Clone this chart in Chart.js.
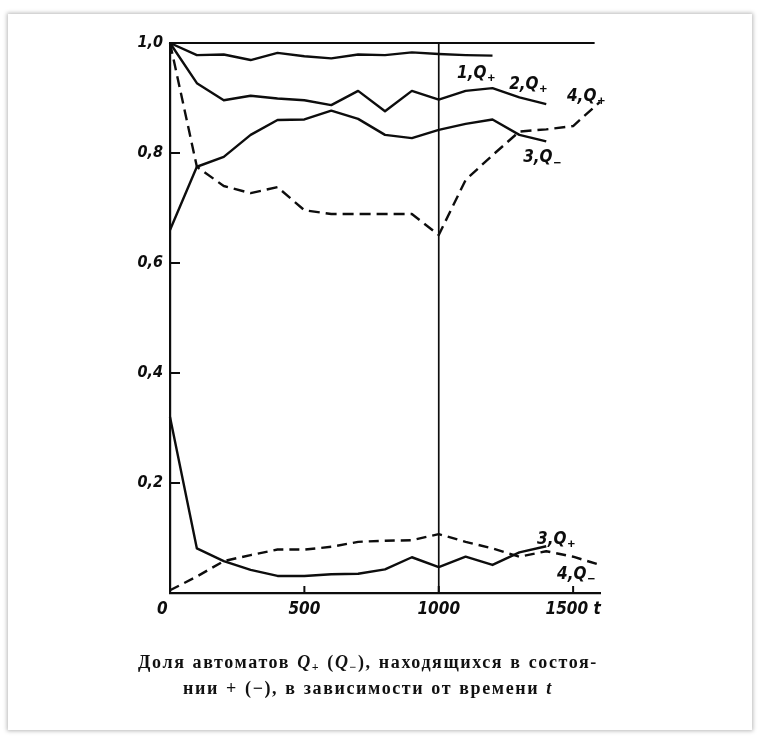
<!DOCTYPE html>
<html>
<head>
<meta charset="utf-8">
<script src="https://cdn.jsdelivr.net/npm/chart.js@4.4.1/dist/chart.umd.min.js"></script>
<style>
  html, body { margin: 0; padding: 0; background: #ffffff; }
  body { width: 760px; height: 744px; position: relative; overflow: hidden; }
  #paper { position: absolute; left: 8px; top: 14px; width: 744px; height: 716px; background: #fff;
           box-shadow: 0 0 4px 1px rgba(0,0,0,0.28); }
  #wrap { position: absolute; left: 0; top: 0; width: 760px; height: 744px; }
  #caption { position: absolute; left: 0; top: 652px; width: 736px; text-align: center;
             font-family: "Liberation Serif", "DejaVu Serif", serif; font-weight: bold;
             font-size: 18px; line-height: 21px; color: #111; letter-spacing: 1.6px; word-spacing: 1px; }
  #caption i { font-style: italic; }
  #caption sub { font-size: 12px; vertical-align: -3px; }
</style>
</head>
<body>
<div id="paper"></div>
<div id="wrap"><canvas id="c" width="760" height="744"></canvas></div>
<div id="caption">Доля автоматов <i>Q</i><sub>+</sub> (<i>Q</i><sub>−</sub>), находящихся в состоя-<br>нии + (−), в зависимости от времени <i>t</i></div>
<script>
// ---- data ----
const tShort = [0,100,200,300,400,500,600,700,800,900,1000,1100,1200];
const tMid   = [0,100,200,300,400,500,600,700,800,900,1000,1100,1200,1300,1400];
const tLong  = [0,100,200,300,400,500,600,700,800,900,1000,1100,1200,1300,1400,1500,1600];

const q1plus  = [1.0,0.978,0.979,0.969,0.982,0.976,0.972,0.979,0.978,0.983,0.980,0.978,0.977];
const q2plus  = [1.0,0.927,0.896,0.904,0.899,0.896,0.887,0.913,0.876,0.913,0.897,0.913,0.918,0.901,0.889];
const q3minus = [0.66,0.775,0.793,0.833,0.860,0.861,0.877,0.862,0.833,0.827,0.842,0.853,0.861,0.833,0.821];
const q4plus  = [1.0,0.775,0.740,0.727,0.738,0.696,0.689,0.689,0.689,0.689,0.651,0.751,0.796,0.839,0.843,0.849,0.893];
const q3plus  = [0.32,0.081,0.058,0.042,0.031,0.031,0.034,0.035,0.043,0.065,0.047,0.066,0.051,0.074,0.085];
const q4minus = [0.005,0.030,0.058,0.069,0.079,0.079,0.084,0.093,0.095,0.096,0.107,0.093,0.081,0.066,0.076,0.066,0.051];

const refTopT = [0,1580];  const refTopV = [1.0,1.0];
const refVertT = [1000,1000]; const refVertV = [0,1.0];

const xTicks = [0,500,1000,1500];
const xTickLabels = ['0\u2002\u2002','500','1000','1500 t'];
const yTicks = [0.2,0.4,0.6,0.8,1.0];
const yTickLabels = ['0,2','0,4','0,6','0,8','1,0'];

// curve labels: [number, subscript, t, value]
const curveLabels = [
  ['1,Q','+',1068,0.945],
  ['2,Q','+',1262,0.924],
  ['4,Q','+',1477,0.902],
  ['3,Q','−',1314,0.791],
  ['3,Q','+',1366,0.098],
  ['4,Q','−',1440,0.033]
];

const pts = (ts, vs) => ts.map((t,i) => ({x:t, y:vs[i]}));
const ink = '#0d0d0d';
const fam = '"Liberation Sans Narrow", "DejaVu Sans Condensed", "Liberation Sans", sans-serif';
const labelFont = 'italic bold 17px ' + fam;

function ds(data, dash, w) {
  return { data, borderColor: ink, borderWidth: w || 2.4, borderDash: dash || [], pointRadius: 0,
           tension: 0, fill: false, clip: false, borderCapStyle: 'butt', borderJoinStyle: 'round' };
}

const inPlot = {
  id: 'inPlot',
  afterDatasetsDraw(chart) {
    const ctx = chart.ctx, xs = chart.scales.x, ys = chart.scales.y;
    ctx.save();
    ctx.strokeStyle = ink; ctx.lineWidth = 2;
    yTicks.forEach(v => {
      const py = ys.getPixelForValue(v);
      ctx.beginPath(); ctx.moveTo(xs.getPixelForValue(0), py); ctx.lineTo(xs.getPixelForValue(0) + 10, py); ctx.stroke();
    });
    xTicks.forEach(t => {
      if (t === 0) return;
      const px = xs.getPixelForValue(t);
      ctx.beginPath(); ctx.moveTo(px, ys.getPixelForValue(0)); ctx.lineTo(px, ys.getPixelForValue(0) - 7); ctx.stroke();
    });
    ctx.fillStyle = ink; ctx.textBaseline = 'middle'; ctx.textAlign = 'left';
    curveLabels.forEach(([main, sub, t, v]) => {
      const px = xs.getPixelForValue(t), py = ys.getPixelForValue(v);
      ctx.font = labelFont;
      ctx.fillText(main, px, py);
      const w = ctx.measureText(main).width;
      ctx.font = 'bold 13px "Liberation Sans", sans-serif';
      ctx.fillText(sub, px + w + 1, py + 5);
    });
    ctx.restore();
  }
};

new Chart(document.getElementById('c'), {
  type: 'line',
  data: {
    datasets: [
      ds(pts(refTopT, refTopV), null, 2.2),
      ds(pts(refVertT, refVertV), null, 1.7),
      ds(pts(tShort, q1plus)),
      ds(pts(tMid, q2plus)),
      ds(pts(tMid, q3minus)),
      ds(pts(tLong, q4plus), [11,6]),
      ds(pts(tMid, q3plus)),
      ds(pts(tLong, q4minus), [10,6])
    ]
  },
  options: {
    responsive: false,
    animation: false,
    layout: { padding: { top: 43, right: 160, left: 0, bottom: 0 } },
    plugins: { legend: { display: false }, tooltip: { enabled: false }, title: { display: false } },
    scales: {
      x: {
        type: 'linear', min: 0, max: 1600,
        afterFit(s) { s.height = 151; },
        afterBuildTicks(s) { s.ticks = xTicks.map(v => ({ value: v })); },
        grid: { display: false, drawTicks: false },
        border: { display: true, color: ink, width: 2.2 },
        ticks: {
          autoSkip: false, maxRotation: 0, padding: 6, color: ink,
          font: { family: fam, size: 17, style: 'italic', weight: 'bold' },
          callback: (v) => { const i = xTicks.indexOf(v); return i >= 0 ? xTickLabels[i] : ''; }
        }
      },
      y: {
        type: 'linear', min: 0, max: 1.0,
        afterFit(s) { s.width = 170; },
        afterBuildTicks(s) { s.ticks = yTicks.map(v => ({ value: v })); },
        grid: { display: false, drawTicks: false },
        border: { display: true, color: ink, width: 2.2 },
        ticks: {
          autoSkip: false, padding: 7, color: ink,
          font: { family: fam, size: 16, style: 'italic', weight: 'bold' },
          callback: (v) => { const i = yTicks.findIndex(y => Math.abs(y - v) < 1e-9); return i >= 0 ? yTickLabels[i] : ''; }
        }
      }
    }
  },
  plugins: [inPlot]
});
</script>
</body>
</html>
